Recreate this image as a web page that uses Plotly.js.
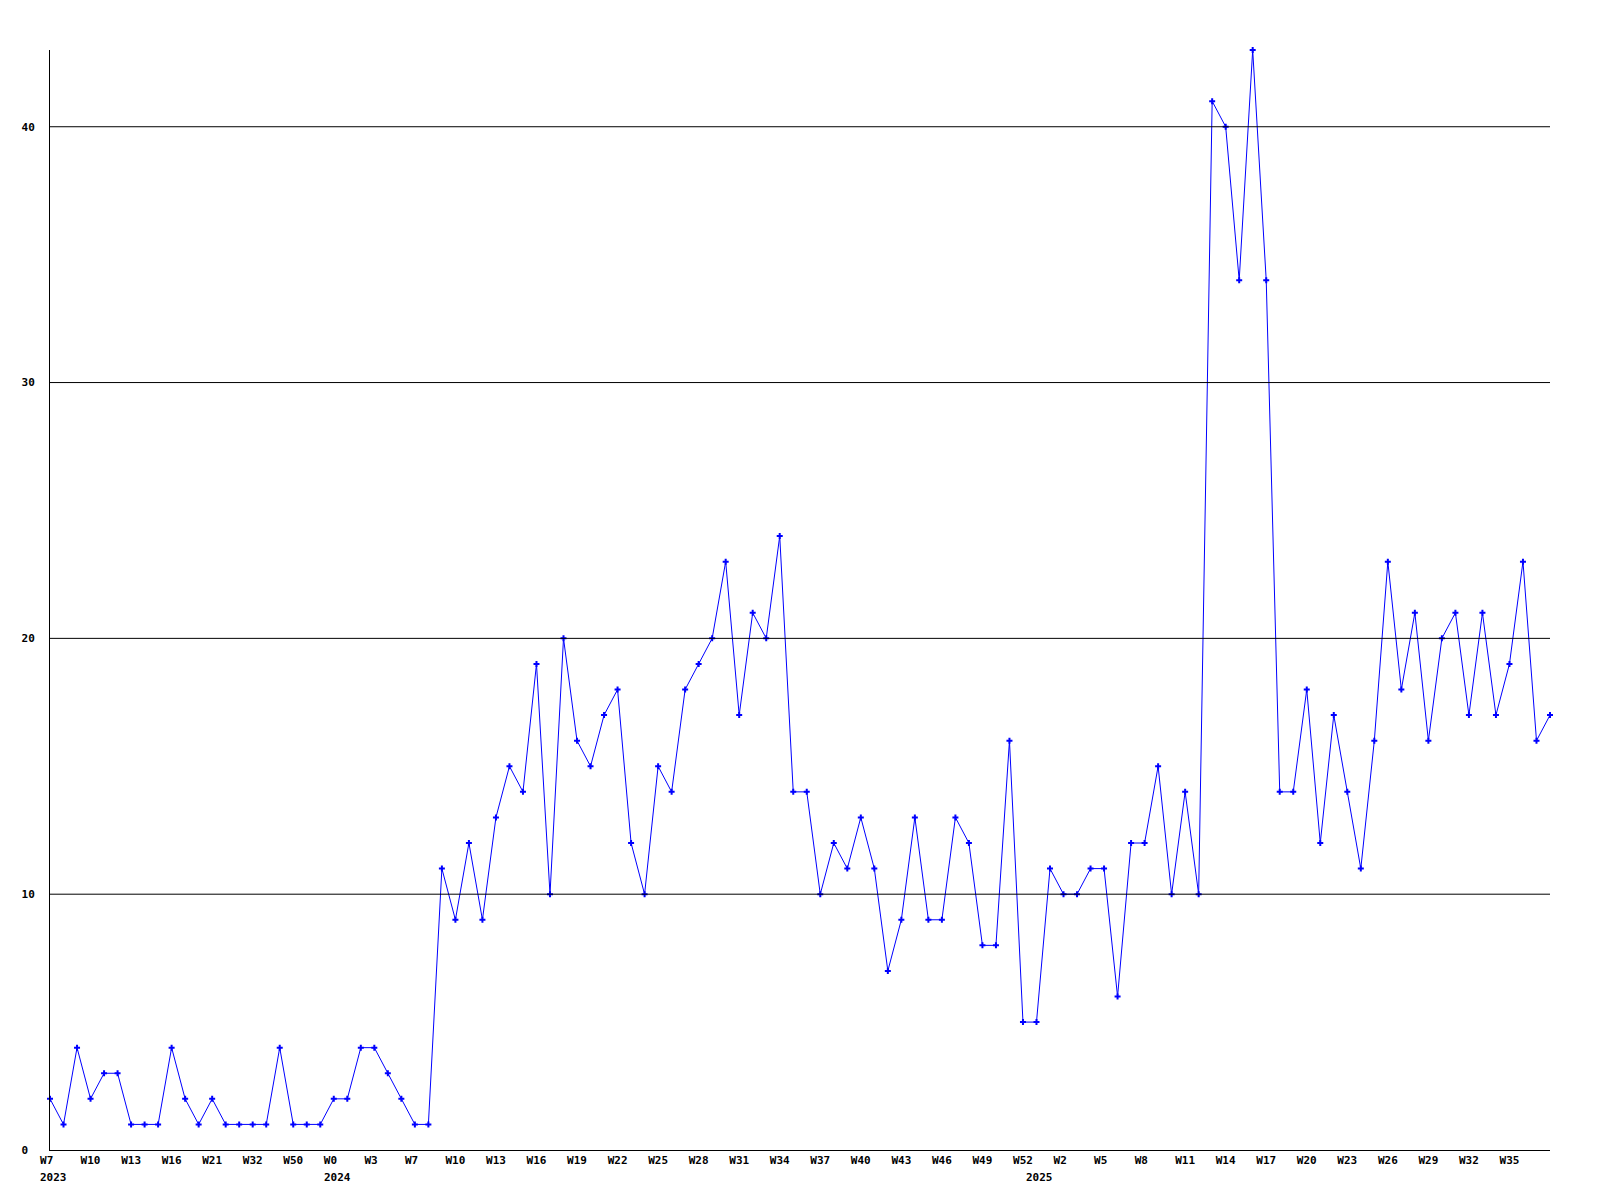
<!DOCTYPE html>
<html>
<head>
<meta charset="utf-8">
<script src="https://cdn.plot.ly/plotly-3.0.1.min.js"></script>
<style>
  html, body { margin: 0; padding: 0; background: #ffffff; }
  #chart { width: 1600px; height: 1200px; }
</style>
</head>
<body>
<div id="chart"></div>
<script>
// Weekly values, one per week point
const values = [
  2, 1, 4, 2, 3, 3, 1, 1, 1, 4,
  2, 1, 2, 1, 1, 1, 1, 4, 1, 1,
  1, 2, 2, 4, 4, 3, 2, 1, 1, 11,
  9, 12, 9, 13, 15, 14, 19, 10, 20, 16,
  15, 17, 18, 12, 10, 15, 14, 18, 19, 20,
  23, 17, 21, 20, 24, 14, 14, 10, 12, 11,
  13, 11, 7, 9, 13, 9, 9, 13, 12, 8,
  8, 16, 5, 5, 11, 10, 10, 11, 11, 6,
  12, 12, 15, 10, 14, 10, 41, 40, 34, 43,
  34, 14, 14, 18, 12, 17, 14, 11, 16, 23,
  18, 21, 16, 20, 21, 17, 21, 17, 19, 23,
  16, 17
];

// Week tick labels, one every third point
const weekLabels = [
  "W7", "W10", "W13", "W16", "W21", "W32", "W50",
  "W0", "W3", "W7", "W10", "W13", "W16", "W19", "W22", "W25", "W28",
  "W31", "W34", "W37", "W40", "W43", "W46", "W49", "W52",
  "W2", "W5", "W8", "W11", "W14", "W17", "W20", "W23", "W26", "W29", "W32", "W35"
];
const labelStep = 3;

// Year labels and the point index where each year starts
const yearLabels = ["2023", "2024", "2025"];
const yearStartIndex = [0, 21, 73];

// Y axis ticks
const yTicks = [0, 10, 20, 30, 40];
const yMax = 43;

const xIdx = values.map((_, i) => i);
const tickVals = weekLabels.map((_, i) => i * labelStep);
// pad to equal width (monospace) so labels read as left-aligned
const padTo = (s, n) => s + "\u00a0".repeat(Math.max(0, n - s.length));

const monoFont = { family: "DejaVu Sans Mono, Liberation Mono, monospace", size: 11, color: "#000000", weight: "bold" };

const trace = {
  type: "scatter",
  mode: "lines+markers",
  x: xIdx,
  y: values,
  line: { color: "#0000ff", width: 1 },
  marker: { symbol: "cross", size: 5, color: "#0000ff", line: { width: 0 } },
  cliponaxis: false,
  hoverinfo: "skip"
};

const gridShapes = yTicks.filter(v => v > 0).map(v => ({
  type: "line", xref: "paper", yref: "y",
  x0: 0, x1: 1, y0: v, y1: v,
  line: { color: "#000000", width: 1 },
  layer: "above"
}));

const yearAnnotations = yearLabels.map((t, i) => ({
  text: t,
  x: yearStartIndex[i],
  xref: "x",
  y: 0, yref: "paper",
  xanchor: "left", yanchor: "top",
  xshift: -12, yshift: -19,
  showarrow: false,
  font: monoFont
}));

const layout = {
  width: 1600,
  height: 1200,
  paper_bgcolor: "#ffffff",
  plot_bgcolor: "#ffffff",
  margin: { l: 50, r: 50, t: 50, b: 50, pad: 0 },
  showlegend: false,
  font: monoFont,
  xaxis: {
    range: [0, values.length - 1],
    tickmode: "array",
    tickvals: tickVals,
    ticktext: weekLabels.map(s => padTo(s, 3)),
    ticks: "",
    showgrid: false,
    zeroline: false,
    showline: true,
    linecolor: "#000000",
    linewidth: 1,
    layer: "above traces",
    tickangle: 0,
    tickfont: monoFont,
    fixedrange: true
  },
  yaxis: {
    range: [0, yMax],
    tickmode: "array",
    tickvals: yTicks,
    ticktext: yTicks.map(v => padTo(String(v), 2)),
    ticks: "",
    showgrid: false,
    zeroline: false,
    showline: true,
    linecolor: "#000000",
    linewidth: 1,
    layer: "above traces",
    tickfont: monoFont,
    ticklabelstandoff: 12,
    fixedrange: true
  },
  shapes: gridShapes,
  annotations: yearAnnotations
};

Plotly.newPlot("chart", [trace], layout, { displayModeBar: false, staticPlot: true });
</script>
</body>
</html>
